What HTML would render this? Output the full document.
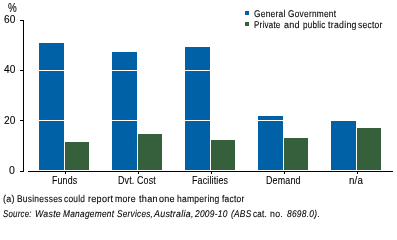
<!DOCTYPE html>
<html><head><meta charset="utf-8">
<style>
html,body{margin:0;padding:0;width:397px;height:227px;overflow:hidden;background:#fff;}
body{position:relative;font-family:"Liberation Sans",sans-serif;color:#000;}
.t{position:absolute;white-space:nowrap;transform-origin:0 0;line-height:1;color:#000;filter:grayscale(1);-webkit-text-stroke:0.25px #000;}
.b{position:absolute;background:#0061a6;}
.g{position:absolute;background:#36603b;}
.k{position:absolute;background:#000;}
.w{position:absolute;background:#fff;height:1px;}
i{font-style:italic;}
</style></head><body>
<div class="k" style="left:23px;top:20px;width:1px;height:152px;"></div>
<div class="k" style="left:20px;top:20px;width:3px;height:1px;"></div>
<div class="k" style="left:20px;top:70px;width:3px;height:1px;"></div>
<div class="k" style="left:20px;top:120px;width:3px;height:1px;"></div>
<div class="k" style="left:20px;top:171px;width:3px;height:1px;"></div>
<div class="k" style="left:28px;top:171px;width:365px;height:1px;"></div>
<div class="k" style="left:65px;top:172px;width:1px;height:2px;"></div>
<div class="k" style="left:138px;top:172px;width:1px;height:2px;"></div>
<div class="k" style="left:211px;top:172px;width:1px;height:2px;"></div>
<div class="k" style="left:284px;top:172px;width:1px;height:2px;"></div>
<div class="k" style="left:357px;top:172px;width:1px;height:2px;"></div>
<div class="b" style="left:39px;top:43px;width:25px;height:127px;"></div>
<div class="g" style="left:65px;top:142px;width:24px;height:28px;"></div>
<div class="b" style="left:112px;top:52px;width:25px;height:118px;"></div>
<div class="g" style="left:138px;top:134px;width:24px;height:36px;"></div>
<div class="b" style="left:185px;top:47px;width:25px;height:123px;"></div>
<div class="g" style="left:211px;top:140px;width:24px;height:30px;"></div>
<div class="b" style="left:258px;top:116px;width:25px;height:54px;"></div>
<div class="g" style="left:284px;top:138px;width:24px;height:32px;"></div>
<div class="b" style="left:331px;top:121px;width:25px;height:49px;"></div>
<div class="g" style="left:357px;top:128px;width:24px;height:42px;"></div>
<div class="w" style="left:28px;top:70px;width:365px;"></div>
<div class="w" style="left:28px;top:120px;width:365px;"></div>
<div class="t" style="left:7.8px;top:1.5px;font-size:12px;letter-spacing:0px;transform:scaleX(0.82);-webkit-text-stroke:0.1px #000;">%</div>
<div class="t" style="left:3.8px;top:14px;font-size:11px;letter-spacing:0px;transform:scaleX(0.92);-webkit-text-stroke:0.1px #000;">60</div>
<div class="t" style="left:3.8px;top:64px;font-size:11px;letter-spacing:0px;transform:scaleX(0.92);-webkit-text-stroke:0.1px #000;">40</div>
<div class="t" style="left:3.8px;top:115px;font-size:11px;letter-spacing:0px;transform:scaleX(0.92);-webkit-text-stroke:0.1px #000;">20</div>
<div class="t" style="left:9px;top:165px;font-size:11px;letter-spacing:0px;transform:scaleX(0.96);-webkit-text-stroke:0.1px #000;">0</div>
<div class="t" style="left:52.4px;top:175px;font-size:11px;letter-spacing:0.2px;transform:scaleX(0.8002);-webkit-text-stroke:0.1px #000;">Funds</div>
<div class="t" style="left:118.4px;top:175px;font-size:11px;letter-spacing:0.2px;transform:scaleX(0.8064);-webkit-text-stroke:0.1px #000;">Dvt. Cost</div>
<div class="t" style="left:192.4px;top:175px;font-size:11px;letter-spacing:0.2px;transform:scaleX(0.808);-webkit-text-stroke:0.1px #000;">Facilities</div>
<div class="t" style="left:266.4px;top:175px;font-size:11px;letter-spacing:0.2px;transform:scaleX(0.8093);-webkit-text-stroke:0.1px #000;">Demand</div>
<div class="t" style="left:349.4px;top:175px;font-size:11px;letter-spacing:0.2px;transform:scaleX(0.8866);-webkit-text-stroke:0.1px #000;">n/a</div>
<div class="t p0" style="left:254.0px;top:10px;font-size:9.8px;letter-spacing:0.3px;transform:scaleX(0.8553);-webkit-text-stroke:0.1px #000;text-rendering:geometricPrecision;">General</div>
<div class="t p1" style="left:288.0px;top:10px;font-size:9.8px;letter-spacing:0.3px;transform:scaleX(0.8482);-webkit-text-stroke:0.1px #000;text-rendering:geometricPrecision;">Government</div>
<div class="t p0" style="left:254.2px;top:21px;font-size:9.8px;letter-spacing:0.3px;transform:scaleX(0.8134);-webkit-text-stroke:0.1px #000;text-rendering:geometricPrecision;">Private</div>
<div class="t p1" style="left:283.8px;top:21px;font-size:9.8px;letter-spacing:0.3px;transform:scaleX(0.92);-webkit-text-stroke:0.1px #000;text-rendering:geometricPrecision;">and</div>
<div class="t p0" style="left:303.0px;top:21px;font-size:9.8px;letter-spacing:0.3px;transform:scaleX(0.827);-webkit-text-stroke:0.1px #000;text-rendering:geometricPrecision;">public</div>
<div class="t p1" style="left:327.8px;top:21px;font-size:9.8px;letter-spacing:0.3px;transform:scaleX(0.8945);-webkit-text-stroke:0.1px #000;text-rendering:geometricPrecision;">trading</div>
<div class="t p0" style="left:357.8px;top:21px;font-size:9.8px;letter-spacing:0.3px;transform:scaleX(0.8618);-webkit-text-stroke:0.1px #000;text-rendering:geometricPrecision;">sector</div>
<div class="t p0" style="left:3.2px;top:195px;font-size:9.8px;letter-spacing:0.3px;transform:scaleX(0.92);-webkit-text-stroke:0.1px #000;text-rendering:geometricPrecision;">(a)</div>
<div class="t p1" style="left:17.2px;top:195px;font-size:9.8px;letter-spacing:0.3px;transform:scaleX(0.8572);-webkit-text-stroke:0.1px #000;text-rendering:geometricPrecision;">Businesses</div>
<div class="t p0" style="left:64.0px;top:195px;font-size:9.8px;letter-spacing:0.3px;transform:scaleX(0.8525);-webkit-text-stroke:0.1px #000;text-rendering:geometricPrecision;">could</div>
<div class="t p1" style="left:88.2px;top:195px;font-size:9.8px;letter-spacing:0.3px;transform:scaleX(0.9251);-webkit-text-stroke:0.1px #000;text-rendering:geometricPrecision;">report</div>
<div class="t p0" style="left:115.2px;top:195px;font-size:9.8px;letter-spacing:0.3px;transform:scaleX(0.8868);-webkit-text-stroke:0.1px #000;text-rendering:geometricPrecision;">more</div>
<div class="t p1" style="left:139.0px;top:195px;font-size:9.8px;letter-spacing:0.3px;transform:scaleX(0.9292);-webkit-text-stroke:0.1px #000;text-rendering:geometricPrecision;">than</div>
<div class="t p0" style="left:159.0px;top:195px;font-size:9.8px;letter-spacing:0.3px;transform:scaleX(0.9233);-webkit-text-stroke:0.1px #000;text-rendering:geometricPrecision;">one</div>
<div class="t p1" style="left:177.2px;top:195px;font-size:9.8px;letter-spacing:0.3px;transform:scaleX(0.87);-webkit-text-stroke:0.1px #000;text-rendering:geometricPrecision;">hampering</div>
<div class="t p0" style="left:221.8px;top:195px;font-size:9.8px;letter-spacing:0.3px;transform:scaleX(0.8581);-webkit-text-stroke:0.1px #000;text-rendering:geometricPrecision;">factor</div>
<div class="t p0" style="left:3.0px;top:210px;font-size:9.8px;letter-spacing:0.3px;transform:scaleX(0.801);-webkit-text-stroke:0.1px #000;text-rendering:geometricPrecision;"><i>Source:</i></div>
<div class="t p1" style="left:35.2px;top:210px;font-size:9.8px;letter-spacing:0.3px;transform:scaleX(0.8929);-webkit-text-stroke:0.1px #000;text-rendering:geometricPrecision;"><i>Waste</i></div>
<div class="t p0" style="left:63.0px;top:210px;font-size:9.8px;letter-spacing:0.3px;transform:scaleX(0.8527);-webkit-text-stroke:0.1px #000;text-rendering:geometricPrecision;"><i>Management</i></div>
<div class="t p1" style="left:117.0px;top:210px;font-size:9.8px;letter-spacing:0.3px;transform:scaleX(0.8412);-webkit-text-stroke:0.1px #000;text-rendering:geometricPrecision;"><i>Services,</i></div>
<div class="t p0" style="left:154.0px;top:210px;font-size:9.8px;letter-spacing:0.3px;transform:scaleX(0.904);-webkit-text-stroke:0.1px #000;text-rendering:geometricPrecision;"><i>Australia,</i></div>
<div class="t p1" style="left:195.0px;top:210px;font-size:9.8px;letter-spacing:0.3px;transform:scaleX(0.8564);-webkit-text-stroke:0.1px #000;text-rendering:geometricPrecision;"><i>2009-10</i></div>
<div class="t p0" style="left:231.0px;top:210px;font-size:9.8px;letter-spacing:0.3px;transform:scaleX(0.8509);-webkit-text-stroke:0.1px #000;text-rendering:geometricPrecision;"><i>(ABS</i></div>
<div class="t p1" style="left:253.0px;top:210px;font-size:9.8px;letter-spacing:0.3px;transform:scaleX(0.8307);-webkit-text-stroke:0.1px #000;text-rendering:geometricPrecision;">cat.</div>
<div class="t p0" style="left:270.2px;top:210px;font-size:9.8px;letter-spacing:0.3px;transform:scaleX(0.8966);-webkit-text-stroke:0.1px #000;text-rendering:geometricPrecision;">no.</div>
<div class="t p1" style="left:287.0px;top:210px;font-size:9.8px;letter-spacing:0.3px;transform:scaleX(0.8551);-webkit-text-stroke:0.1px #000;text-rendering:geometricPrecision;"><i>8698.0)</i>.</div>
<div class="b" style="left:245px;top:11px;width:4px;height:4px;"></div>
<div class="g" style="left:245px;top:22px;width:4px;height:4px;"></div>
</body></html>
